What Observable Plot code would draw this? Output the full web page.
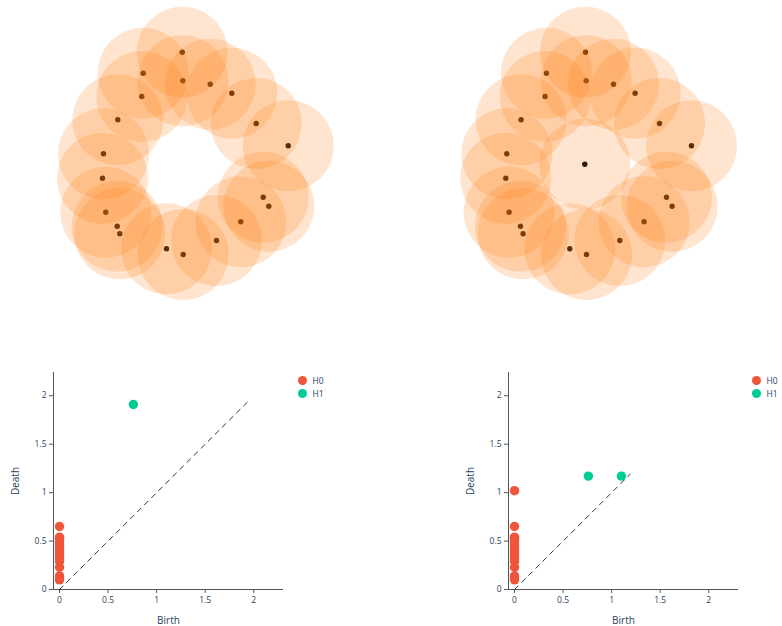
<!DOCTYPE html>
<html><head><meta charset="utf-8">
<script src="https://cdn.jsdelivr.net/npm/d3@7"></script>
<script src="https://cdn.jsdelivr.net/npm/@observablehq/plot@0.6"></script>
<style>
body{margin:0;background:#fff;overflow:hidden;}
#root{position:relative;width:782px;height:626px;overflow:hidden;font-family:"Open Sans",sans-serif;}
.panel{position:absolute;}
.legend{position:absolute;font-size:8.5px;color:#2a3f5f;white-space:nowrap;}
.legend .row{position:absolute;left:0;display:flex;align-items:center;height:12px;}
.legend .sw{width:9.4px;height:9.4px;border-radius:50%;margin-right:5px;}
</style></head><body><div id="root"></div>
<script>
// point cloud (ring of points)
const cloudX = [0.007,-0.383,0.013,0.287,-0.397,0.503,-0.637,0.747,1.067,-0.78,-0.79,0.817,0.873,-0.757,0.593,-0.643,-0.617,0.35,-0.15,0.017];
const cloudY = [1.12,0.91,0.834,0.80,0.677,0.71,0.444,0.407,0.184,0.104,-0.14,-0.33,-0.42,-0.48,-0.576,-0.62,-0.696,-0.763,-0.846,-0.903];
// extra point added in the centre (second panel)
const extraX = [0.0];
const extraY = [0.0];
const ballRadius = 0.455;

// persistence diagrams
const seriesNames = ["H0","H1"];
const seriesColors = ["#EF553B","#00CC96"];
const h0DeathA = [0.65,0.54,0.53,0.51,0.49,0.47,0.45,0.43,0.41,0.39,0.37,0.35,0.33,0.31,0.29,0.23,0.14,0.12,0.10];
const h0DeathB = [1.02,0.65,0.54,0.53,0.51,0.49,0.47,0.45,0.43,0.41,0.39,0.37,0.35,0.33,0.31,0.29,0.23,0.14,0.12,0.10];
const h1BirthA = [0.76];
const h1DeathA = [1.91];
const h1BirthB = [0.76,1.10];
const h1DeathB = [1.17,1.17];
const diagA = [0,1.96];
const diagB = [0,1.19];
const axisTicks = [0,0.5,1,1.5,2];
const axisTickLabels = ["0","0.5","1","1.5","2"];
const xDomain = [-0.062,2.306];
const yDomain = [0,2.24];

const root = document.getElementById("root");
function place(el, left, top){ const d=document.createElement("div"); d.className="panel"; d.style.left=left+"px"; d.style.top=top+"px"; d.appendChild(el); root.appendChild(d); }
const fmtTick = v => axisTickLabels[axisTicks.indexOf(v)];

function cloud(xs, ys, xdom, ydom){
  const pts = xs.map((x,i)=>({x, y:ys[i], rad:ballRadius}));
  return Plot.plot({
    width:391, height:330, margin:0,
    x:{domain:xdom, axis:null}, y:{domain:ydom, axis:null},
    r:{type:"linear", domain:[0,1], range:[0,100]},
    style:{background:"transparent"},
    marks:[
      Plot.dot(pts,{x:"x",y:"y",r:2.7,fill:"#000"}),
      Plot.dot(pts,{x:"x",y:"y",r:"rad",fill:"#ff7f0e",fillOpacity:0.2,stroke:null})
    ]
  });
}

function diagram(h0, h1b, h1d, diag, ml, mr){
  const pts = [
    ...h0.map(d=>({birth:0, death:d, s:seriesNames[0]})),
    ...h1b.map((b,i)=>({birth:b, death:h1d[i], s:seriesNames[1]}))
  ];
  return Plot.plot({
    width:391, height:266, marginLeft:ml, marginRight:mr, marginTop:12, marginBottom:37,
    x:{domain:xDomain}, y:{domain:yDomain},
    color:{domain:seriesNames, range:seriesColors},
    style:{fontFamily:"Open Sans", background:"transparent"},
    marks:[
      Plot.ruleY([yDomain[0]],{stroke:"#555"}),
      Plot.ruleX([xDomain[0]],{stroke:"#555"}),
      Plot.axisX({ticks:axisTicks, tickFormat:fmtTick, tickSize:4, tickPadding:3, stroke:"#555", fill:"#2a3f5f", fontSize:8.5, label:null}),
      Plot.axisY({ticks:axisTicks, tickFormat:fmtTick, tickSize:4, tickPadding:3, stroke:"#555", fill:"#2a3f5f", fontSize:8.5, label:null}),
      Plot.axisX({ticks:[], tickSize:0, fill:"#2a3f5f", fontSize:10, label:"Birth", labelAnchor:"center", labelOffset:34, labelArrow:"none"}),
      Plot.axisY({ticks:[], tickSize:0, fill:"#2a3f5f", fontSize:10, label:"Death", labelAnchor:"center", labelOffset:42, labelArrow:"none"}),
      Plot.line(diag.map(v=>({v})),{x:"v",y:"v",stroke:"#333",strokeWidth:1,strokeDasharray:"5,5"}),
      Plot.dot(pts,{x:"birth",y:"death",fill:"s",r:4.7})
    ]
  });
}

function legend(left, top){
  const lg=document.createElement("div"); lg.className="legend"; lg.style.left=left+"px"; lg.style.top=top+"px";
  seriesNames.forEach((n,i)=>{
    const row=document.createElement("div"); row.className="row"; row.style.top=(i*12.6)+"px";
    const sw=document.createElement("span"); sw.className="sw"; sw.style.background=seriesColors[i];
    const t=document.createElement("span"); t.textContent=n;
    row.appendChild(sw); row.appendChild(t); lg.appendChild(row);
  });
  root.appendChild(lg);
}

place(cloud(cloudX, cloudY, [-1.81,2.10], [-1.663,1.637]), 0, 0);
place(cloud([...cloudX, ...extraX], [...cloudY, ...extraY], [-1.933,1.977], [-1.663,1.637]), 391, 0);
place(diagram(h0DeathA, h1BirthA, h1DeathA, diagA, 53, 108), 0, 360);
place(diagram(h0DeathB, h1BirthB, h1DeathB, diagB, 117, 44), 391, 360);
legend(298, 374.7);
legend(752, 374.7);
</script></body></html>
